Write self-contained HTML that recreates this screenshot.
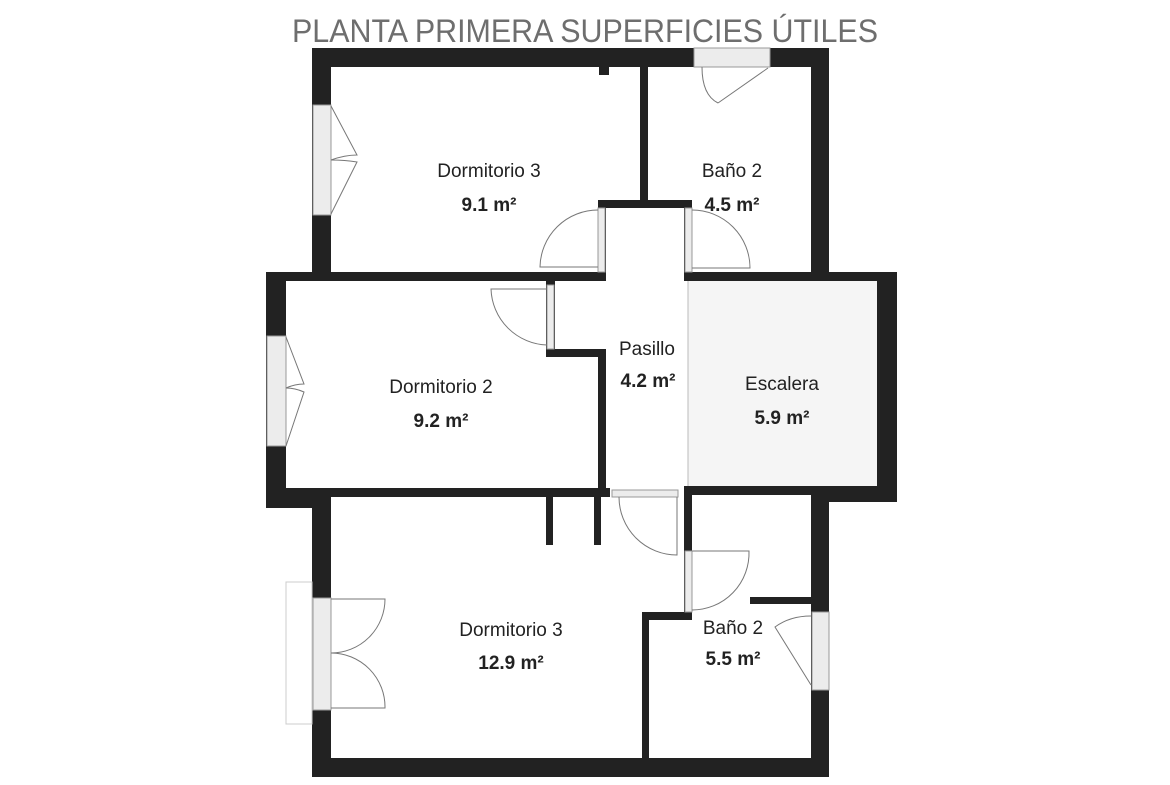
<!DOCTYPE html>
<html><head><meta charset="utf-8"><style>
html,body{margin:0;padding:0;background:#fff;}
svg{display:block;}
text{font-family:"Liberation Sans",sans-serif;}
</style></head><body>
<svg width="1170" height="785" viewBox="0 0 1170 785" xmlns="http://www.w3.org/2000/svg">
<text x="585" y="42" text-anchor="middle" font-size="32" fill="#6e6e6e" textLength="586" lengthAdjust="spacingAndGlyphs">PLANTA PRIMERA SUPERFICIES ÚTILES</text>
<rect x="688" y="280" width="190" height="206" fill="#f5f5f5"/>
<line x1="688" y1="280" x2="688" y2="488" stroke="#bbb" stroke-width="1"/>
<g fill="#222">
<rect x="312" y="48" width="517" height="19"/>
<rect x="312" y="48" width="19" height="230"/>
<rect x="811" y="48" width="18" height="230"/>
<rect x="266" y="272" width="340" height="9"/>
<rect x="266" y="272" width="20" height="236"/>
<rect x="684" y="272" width="213" height="9"/>
<rect x="877" y="272" width="20" height="230"/>
<rect x="684" y="486" width="213" height="9"/>
<rect x="811" y="486" width="86" height="16"/>
<rect x="266" y="488" width="344" height="9"/>
<rect x="266" y="497" width="65" height="11"/>
<rect x="312" y="495" width="19" height="282"/>
<rect x="312" y="758" width="517" height="19"/>
<rect x="811" y="495" width="18" height="282"/>
<rect x="640" y="67" width="8" height="138"/>
<rect x="598" y="200" width="94" height="8"/>
<rect x="598" y="200" width="8" height="80"/>
<rect x="684" y="200" width="8" height="80"/>
<rect x="546" y="280" width="9" height="77"/>
<rect x="546" y="349" width="60" height="8"/>
<rect x="598" y="349" width="8" height="146"/>
<rect x="546" y="497" width="7" height="48"/>
<rect x="594" y="497" width="7" height="48"/>
<rect x="684" y="488" width="8" height="132"/>
<rect x="642" y="612" width="50" height="8"/>
<rect x="642" y="612" width="7" height="146"/>
<rect x="750" y="597" width="61" height="7"/>
<rect x="599" y="67" width="10" height="8"/>
</g>
<g fill="#ececec" stroke="#999" stroke-width="1">
<rect x="313" y="105" width="18" height="110"/>
<rect x="267" y="336" width="19" height="110"/>
<rect x="313" y="598" width="18" height="112"/>
<rect x="694" y="48" width="76" height="19"/>
<rect x="598" y="208" width="7" height="64"/>
<rect x="685" y="208" width="7" height="64"/>
<rect x="547" y="285" width="7" height="64"/>
<rect x="612" y="490" width="66" height="7"/>
<rect x="685" y="551" width="7" height="61"/>
<rect x="812" y="612" width="17" height="78"/>
</g>
<g fill="none" stroke="#777" stroke-width="1">
<rect x="286" y="582" width="26" height="142" stroke="#ccc"/>
<path d="M331 106 L357 155 Q345 155 331 160 M331 160 Q345 160 357 162 L331 214"/>
<path d="M286 337 L304 384 Q295 384 286 388 M286 388 Q295 388 304 392 L286 446"/>
<path d="M331 599 L385 599 A54 54 0 0 1 331 653 M331 653 A54 54 0 0 1 385 708 L331 708"/>
<path d="M768 68 L718 103 M702 67 Q702 95 718 103"/>
<path d="M598 210 A58 58 0 0 0 540 267 L598 267"/>
<path d="M692 210 A58 58 0 0 1 750 268 L692 268"/>
<path d="M547 289 L491 289 A58 58 0 0 0 547 345"/>
<path d="M619 497 A58 58 0 0 0 677 555 L677 497"/>
<path d="M692 551 L749 551 A57 57 0 0 1 692 610"/>
<path d="M811 616 Q790 616 775 627 L811 685"/>
</g>
<g fill="#222" text-anchor="middle" font-size="19">
<text x="489" y="177">Dormitorio 3</text>
<text x="489" y="211" font-weight="bold">9.1 m²</text>
<text x="732" y="177">Baño 2</text>
<text x="732" y="211" font-weight="bold">4.5 m²</text>
<text x="647" y="355">Pasillo</text>
<text x="648" y="387" font-weight="bold">4.2 m²</text>
<text x="441" y="393">Dormitorio 2</text>
<text x="441" y="427" font-weight="bold">9.2 m²</text>
<text x="782" y="390">Escalera</text>
<text x="782" y="424" font-weight="bold">5.9 m²</text>
<text x="511" y="636">Dormitorio 3</text>
<text x="511" y="669" font-weight="bold">12.9 m²</text>
<text x="733" y="634">Baño 2</text>
<text x="733" y="665" font-weight="bold">5.5 m²</text>
</g>
</svg>
</body></html>
